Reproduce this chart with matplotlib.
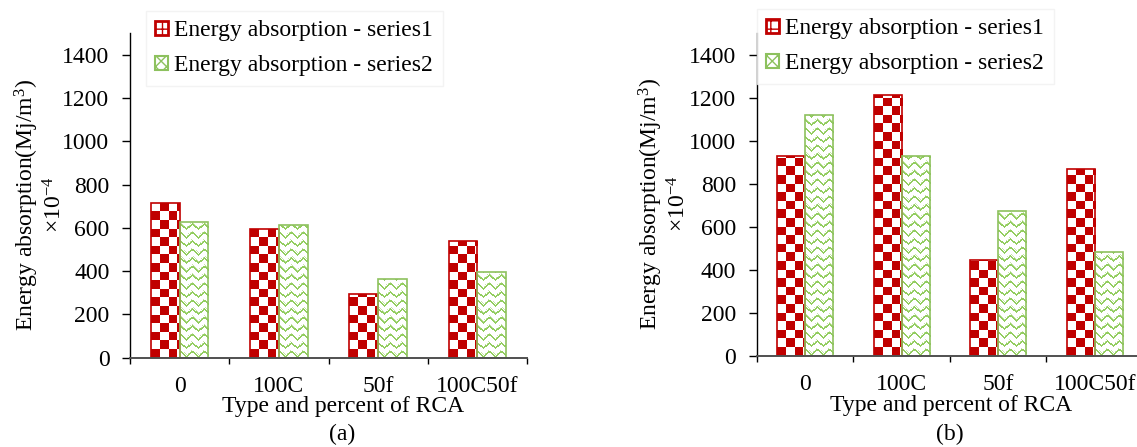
import matplotlib
matplotlib.use("Agg")
import matplotlib.pyplot as plt
import numpy as np
from matplotlib.patches import Patch

plt.rcParams['font.family'] = ['Liberation Serif', 'DejaVu Serif']
plt.rcParams['font.size'] = 17
plt.rcParams['mathtext.fontset'] = 'custom'
plt.rcParams['mathtext.rm'] = 'Liberation Serif'
plt.rcParams['mathtext.it'] = 'Liberation Serif:italic'
plt.rcParams['mathtext.bf'] = 'Liberation Serif:bold'

# data
categories = ['0', '100C', '50f', '100C50f']
series_names = ['Energy absorption - series1', 'Energy absorption - series2']
a_series1 = [714, 594, 293, 541]
a_series2 = [626, 615, 362, 396]
b_series1 = [927, 1210, 447, 866]
b_series2 = [1117, 928, 672, 484]
yticks = [0, 200, 400, 600, 800, 1000, 1200, 1400]

RED = '#C00000'
GREEN_EDGE = '#8DC15E'
GREEN_LINE = '#93CD60'
FS = 17

W, H = 1137, 447
fig = plt.figure(figsize=(W / 100, H / 100), dpi=100)


def checker_texture(nx, ny, q=8.6):
    ii, jj = np.mgrid[0:ny, 0:nx]
    mask = ((np.floor(ii / q) + np.floor(jj / q)) % 2) == 0
    img = np.ones((ny, nx, 3))
    img[mask] = matplotlib.colors.to_rgb(RED)
    return img


def zigzag_texture(nx, ny, px=12.0, py=8.5, amp=5.0, thick=2.0):
    ii, jj = np.mgrid[0:ny, 0:nx]
    t = (jj % px) / px
    tri = np.abs(2 * t - 1) * amp
    d = (ii - tri) % py
    mask = d < thick
    dots = ((ii + jj) % 3 == 0) & ~mask & (d < thick + 1.5)
    img = np.ones((ny, nx, 3))
    img[mask] = matplotlib.colors.to_rgb(GREEN_LINE)
    img[dots] = matplotlib.colors.to_rgb('#C6E4A8')
    return img


def fill_texture(ax, bars, maker):
    for bar in bars:
        x0, y0 = bar.get_x(), bar.get_y()
        w, h = bar.get_width(), bar.get_height()
        (p0x, p0y), (p1x, p1y) = ax.transData.transform([(x0, y0), (x0 + w, y0 + h)])
        nx = max(int(np.ceil(p1x - p0x)), 1)
        ny = max(int(np.ceil(p1y - p0y)), 1)
        im = ax.imshow(maker(nx, ny), extent=(x0, x0 + w, y0, y0 + h),
                       origin='lower', interpolation='nearest', aspect='auto', zorder=1)
        im.set_clip_path(bar)


def draw_panel(rect, s1, s2, tag, ylab_x, xlab_pos, tag_pos, legend_anchor):
    ax = fig.add_axes(rect)
    x = np.arange(len(categories))
    bw = 0.29
    ax.set_xlim(-0.5, len(categories) - 0.5)
    ax.set_ylim(0, 1500)

    bars1 = ax.bar(x - bw / 2, s1, bw, facecolor='none', edgecolor=RED, linewidth=1.2, zorder=2)
    bars2 = ax.bar(x + bw / 2, s2, bw, facecolor='none', edgecolor=GREEN_EDGE, linewidth=1.2, zorder=2)
    fill_texture(ax, bars1, checker_texture)
    fill_texture(ax, bars2, zigzag_texture)
    ax.set_xlim(-0.5, len(categories) - 0.5)
    ax.set_ylim(0, 1500)

    for side in ['top', 'right']:
        ax.spines[side].set_visible(False)
    ax.spines['left'].set_linewidth(1.0)
    ax.spines['left'].set_color('black')
    ax.spines['bottom'].set_linewidth(1.4)
    ax.spines['bottom'].set_color('#505050')

    ax.set_yticks(yticks)
    ax.tick_params(axis='y', direction='out', length=5.8, width=1, pad=9, labelsize=FS)

    ax.set_xticks(np.arange(-0.5, len(categories), 1.0))
    ax.set_xticks(x, minor=True)
    ax.set_xticklabels(categories, minor=True)
    ax.tick_params(axis='x', which='major', direction='out', length=4.5, width=1,
                   color='black', labelbottom=False)
    ax.tick_params(axis='x', which='minor', length=0, pad=13, labelsize=FS)

    ax.text(ylab_x, 0.47, 'Energy absorption(Mj/m$^3$)\n×10$^{-4}$', rotation=90,
            ha='center', va='center', transform=ax.transAxes, fontsize=FS, linespacing=1.1)
    ax.text(xlab_pos[0], xlab_pos[1], 'Type and percent of RCA', ha='center', va='center',
            transform=ax.transAxes, fontsize=FS)
    fig.text(tag_pos[0] / W, 1 - tag_pos[1] / H, tag, ha='center', va='center', fontsize=FS)

    handles = [Patch(facecolor='white', edgecolor=RED, linewidth=2, hatch='++'),
               Patch(facecolor='white', edgecolor=GREEN_EDGE, linewidth=1.5, hatch='xxx')]
    leg = ax.legend(handles, series_names, loc='upper left',
                    bbox_to_anchor=(legend_anchor[0] / W, 1 - legend_anchor[1] / H),
                    bbox_transform=fig.transFigure, frameon=True, fancybox=False,
                    handlelength=0.55, handleheight=0.55, handletextpad=0.25,
                    labelspacing=0.58, borderpad=0.4, borderaxespad=0, fontsize=FS)
    leg.get_frame().set_edgecolor('#F0F0F0')
    leg.get_frame().set_linewidth(1.0)
    return ax


# panel (a)
draw_panel([130 / W, 1 - 357.7 / H, 397 / W, 324.7 / H], a_series1, a_series2, '(a)',
           -0.228, (0.5365, -0.149), (342, 434), (146, 11))
# panel (b) runs slightly past the right edge, as in the reference
draw_panel([756.7 / W, 1 - 355.7 / H, 386.3 / W, 322.7 / H], b_series1, b_series2, '(b)',
           -0.241, (0.504, -0.155), (950, 434), (757, 9))

fig.savefig('out.png', dpi=100)
